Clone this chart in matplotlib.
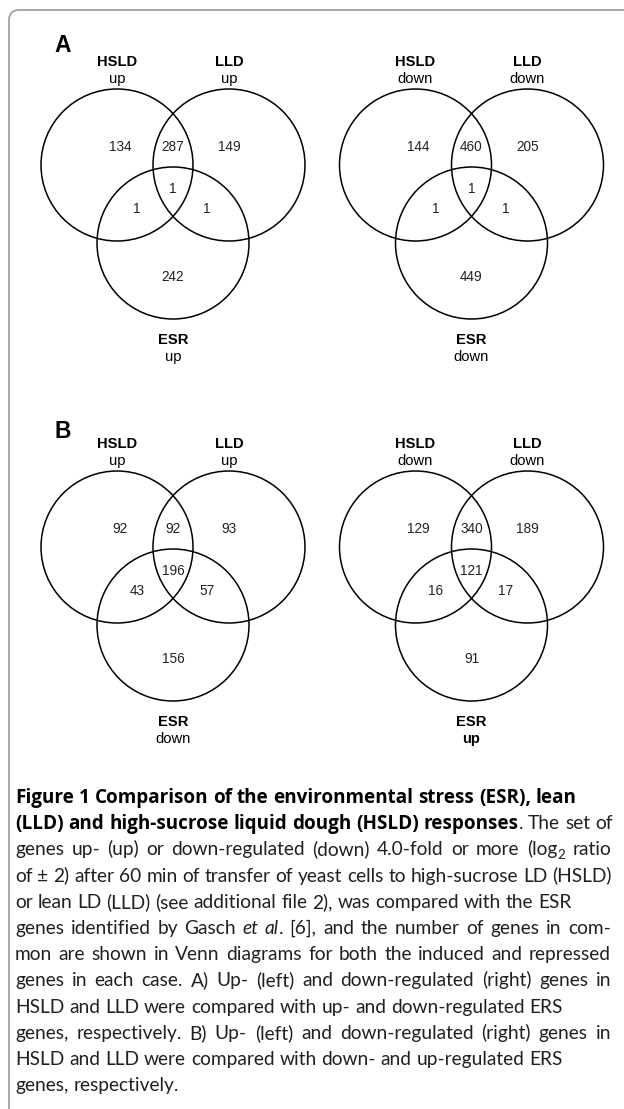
import matplotlib
matplotlib.use("Agg")
import matplotlib.pyplot as plt
from matplotlib.patches import Circle
from matplotlib.path import Path
from matplotlib.patches import PathPatch

# set names and sub-labels for each diagram (HSLD, LLD, ESR)
set_names = ["HSLD", "LLD", "ESR"]
a_left_sub = ["up", "up", "up"]
a_right_sub = ["down", "down", "down"]
b_left_sub = ["up", "up", "down"]
b_right_sub = ["down", "down", "up"]

# region counts: HSLD only, HSLD&LLD, LLD only, all three, HSLD&ESR, LLD&ESR, ESR only
a_left_counts = [134, 287, 149, 1, 1, 1, 242]
a_right_counts = [144, 460, 205, 1, 1, 1, 449]
b_left_counts = [92, 92, 93, 196, 43, 57, 156]
b_right_counts = [129, 340, 189, 121, 16, 17, 91]

caption_lines = [
    [("Figure 1 Comparison of the environmental stress (ESR), lean", "bold")],
    [("(LLD) and high-sucrose liquid dough (HSLD) responses", "bold"), (". The set of", "normal")],
    [("genes up- (up) or down-regulated (down) 4.0-fold or more (log", "normal"), ("2", "sub"), (" ratio", "normal")],
    [("of \u00b1 2) after 60 min of transfer of yeast cells to high-sucrose LD (HSLD)", "normal")],
    [("or lean LD (LLD) (see additional file 2), was compared with the ESR", "normal")],
    [("genes identified by Gasch ", "normal"), ("et al", "italic"), (". [6], and the number of genes in com-", "normal")],
    [("mon are shown in Venn diagrams for both the induced and repressed", "normal")],
    [("genes in each case. A) Up- (left) and down-regulated (right) genes in", "normal")],
    [("HSLD and LLD were compared with up- and down-regulated ERS", "normal")],
    [("genes, respectively. B) Up- (left) and down-regulated (right) genes in", "normal")],
    [("HSLD and LLD were compared with down- and up-regulated ERS", "normal")],
    [("genes, respectively.", "normal")],
]
# lines that run to the right margin in the original
full_lines = [1, 2, 3, 5, 6, 7, 9]

W, H = 624, 1109
fig = plt.figure(figsize=(W / 100, H / 100), dpi=100)
ax = fig.add_axes([0, 0, 1, 1])
ax.set_xlim(0, W)
ax.set_ylim(H, 0)
ax.axis("off")

# frame: top and left edges with rounded corner
r = 10
verts = [(W, 10), (9 + r, 10), (9, 10), (9, 10 + r), (9, H)]
codes = [Path.MOVETO, Path.LINETO, Path.CURVE3, Path.CURVE3, Path.LINETO]
ax.add_patch(PathPatch(Path(verts, codes), fill=False, edgecolor="#9a9a9a", lw=1.2))

R = 76
circle_off = [(-56, -26), (56, -26), (0, 52)]
region_off = [(-53, -44), (0, -44), (56, -44), (0, -2), (-36, 18), (34, 18), (0, 86)]
label_off = [(-56, -129), (56, -129), (0, 149)]
sans = "Liberation Sans"


def venn(cx, cy, counts, subs, bold_sub=None):
    for dx, dy in circle_off:
        ax.add_patch(Circle((cx + dx, cy + dy), R, fill=False, edgecolor="black", lw=1.1))
    for (dx, dy), n in zip(region_off, counts):
        ax.text(cx + dx, cy + dy, str(n), ha="center", va="center", fontsize=9.8,
                family=sans, color="#222222")
    for i, ((dx, dy), name, sub) in enumerate(zip(label_off, set_names, subs)):
        ax.text(cx + dx, cy + dy, name, ha="center", va="center", fontsize=10.6,
                family=sans, weight="bold")
        w = "bold" if (bold_sub is not None and i == bold_sub) else "normal"
        ax.text(cx + dx, cy + dy + 17, sub, ha="center", va="center", fontsize=10.6,
                family=sans, weight=w)


venn(173, 191, a_left_counts, a_left_sub)
venn(471.5, 191, a_right_counts, a_right_sub)
venn(173, 573, b_left_counts, b_left_sub)
venn(471.5, 573, b_right_counts, b_right_sub, bold_sub=2)

ax.text(63, 45, "A", ha="center", va="center", fontsize=16.5, family=sans, weight="bold")
ax.text(63, 432, "B", ha="center", va="center", fontsize=16.5, family=sans, weight="bold")

# ---- caption ----
cap_font = "Lato"
bold_font = "Open Sans"
fig.canvas.draw()
renderer = fig.canvas.get_renderer()


def text_w(s, **kw):
    t = ax.text(0, 0, s, **kw)
    w = t.get_window_extent(renderer=renderer).width
    t.remove()
    return w


# regular size fitted on the longest line, bold size on the first line
cap_size = 10 * 596 / text_w(caption_lines[3][0][0], family=cap_font, fontsize=10)
bold_size = 10 * 560 / text_w(caption_lines[0][0][0], family=bold_font, fontsize=10, weight="bold")


def style_kw(style):
    kw = dict(family=cap_font, fontsize=cap_size, color="#231f20")
    if style == "bold":
        kw.update(family=bold_font, weight="bold", color="black", fontsize=bold_size)
    elif style == "italic":
        kw.update(style="italic")
    elif style == "sub":
        kw.update(fontsize=cap_size * 0.7)
    return kw


def tokens(pieces):
    # split pieces into (word, style, is_space)
    out = []
    for txt, style in pieces:
        parts = txt.split(" ")
        for j, p in enumerate(parts):
            if j > 0:
                out.append((" ", style, True))
            if p:
                out.append((p, style, False))
    return out


y0 = 798
dy = 26.2
for k, pieces in enumerate(caption_lines):
    toks = tokens(pieces)
    widths = []
    for word, style, sp in toks:
        kw = style_kw(style)
        if sp:
            widths.append(text_w("x x", **kw) - text_w("xx", **kw))
        else:
            widths.append(text_w(word, **kw))
    nsp = sum(1 for t in toks if t[2])
    extra = 0
    if k in full_lines and nsp:
        extra = max(0, (596 - sum(widths)) / nsp)
    x = 15
    y = y0 + k * dy + 5
    for (word, style, sp), w in zip(toks, widths):
        if sp:
            x += w + extra
            continue
        yy = y + 3.5 if style == "sub" else y
        ax.text(x, yy, word, va="baseline", ha="left", **style_kw(style))
        x += w

fig.savefig("out.png", dpi=100)
